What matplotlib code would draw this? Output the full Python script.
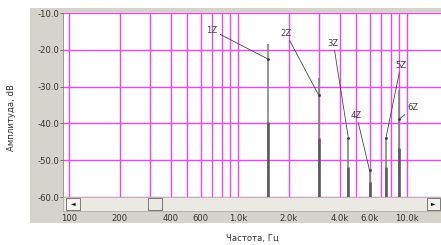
import numpy as np
import matplotlib
matplotlib.use('Agg')
import matplotlib.pyplot as plt
from matplotlib.patches import Rectangle

# harmonic spectrum data
freqs = [1500, 3000, 4500, 6000, 7500, 9000]
peak_db = [-18.4, -27.7, -44.0, -52.7, -44.0, -31.0]
level_db = [-39.5, -44.0, -51.8, -56.0, -51.8, -46.7]
names = ['1Z', '2Z', '3Z', '4Z', '5Z', '6Z']
marker_db = [-22.5, -32.3, -44.0, -52.7, -44.0, -38.8]
# label offsets from the marker, in points
label_off = [(-56, 29), (-33, 62), (-15, 95), (-13, 55), (15, 73), (14, 11)]

yticks = [-10, -20, -30, -40, -50, -60]
xticks = [100, 200, 400, 600, 1000, 2000, 4000, 6000, 10000]
xticklabels = ['100', '200', '400', '600', '1.0k', '2.0k', '4.0k', '6.0k', '10.0k']
grid_f = [100, 200, 300, 400, 500, 600, 700, 800, 900,
          1000, 2000, 3000, 4000, 5000, 6000, 7000, 8000, 9000, 10000]

W, H = 441, 245
fig = plt.figure(figsize=(W / 72, H / 72), dpi=72)
fig.patch.set_facecolor('white')

def px(x0, y0, x1, y1):
    # pixel box (top-left origin) -> figure fraction rect
    return [x0 / W, (H - y1) / H, (x1 - x0) / W, (y1 - y0) / H]

# grey windows panel
r = px(30, 8, 441, 223)
fig.patches.append(Rectangle((r[0], r[1]), r[2], r[3], transform=fig.transFigure,
                             facecolor='#d6d3cc', edgecolor='none', zorder=-10))

ax = fig.add_axes(px(63, 13, 441, 197))
ax.set_facecolor('white')
ax.set_xscale('log')
ax.set_xlim(92, 15900)
ax.set_ylim(-60, -10)

for f in grid_f:
    ax.axvline(f, color='#e84ae8', lw=1.4, zorder=1)
for y in yticks:
    ax.axhline(y, color='#e84ae8', lw=1.4, zorder=1)

ax.vlines(freqs, -60, peak_db, color='#808080', lw=1.6, zorder=3)
ax.vlines(freqs, -60, level_db, color='#5e5a5e', lw=2.6, zorder=4)

for f, m, n, off in zip(freqs, marker_db, names, label_off):
    ax.plot([f], [m], 'o', ms=1.8, color='#404040', zorder=5)
    ax.annotate(n, xy=(f, m), xytext=off, textcoords='offset points',
                ha='center', va='center', fontsize=8.5, color='#404040',
                arrowprops=dict(arrowstyle='-', color='#404040', lw=0.8,
                                shrinkA=1, shrinkB=0), zorder=6)

ax.set_yticks(yticks)
ax.set_yticklabels(['%.1f' % v for v in yticks])
ax.set_xticks(xticks)
ax.set_xticklabels(xticklabels)
ax.minorticks_off()
ax.tick_params(axis='y', length=3, width=0.8, color='#555555', labelsize=8.5,
               labelcolor='#333333', pad=1)
ax.tick_params(axis='x', length=0, labelsize=8.5, labelcolor='#333333', pad=17)
for s in ['top', 'right', 'bottom']:
    ax.spines[s].set_visible(False)
ax.spines['left'].set_color('#808080')

# scrollbar under the plot
sb = fig.add_axes(px(63, 197, 441, 211))
sb.set_xlim(0, 378)
sb.set_ylim(0, 14)
sb.set_facecolor('#ebe9e4')
sb.set_xticks([])
sb.set_yticks([])
for s in sb.spines.values():
    s.set_color('#b0aca4')
    s.set_linewidth(0.8)
sb.add_patch(Rectangle((3, 1), 14, 12, facecolor='#f4f3ef', edgecolor='#606060', lw=0.8))
sb.text(10, 7, '\u25c4', ha='center', va='center', fontsize=6, color='black')
sb.add_patch(Rectangle((85, 1), 14, 12, facecolor='#ebe9e4', edgecolor='#606060', lw=0.8))
sb.add_patch(Rectangle((364, 1), 13, 12, facecolor='#f4f3ef', edgecolor='#606060', lw=0.8))
sb.text(370.5, 7, '\u25ba', ha='center', va='center', fontsize=6, color='black')

fig.text(12 / W, 1 - 118 / H, 'Амплитуда, dB', rotation=90, ha='center', va='center',
         fontsize=8.5, color='#333333')
fig.text(252 / W, 1 - 238 / H, 'Частота, Гц', ha='center', va='center',
         fontsize=8.5, color='#333333')

fig.savefig('out.png', dpi=72)
